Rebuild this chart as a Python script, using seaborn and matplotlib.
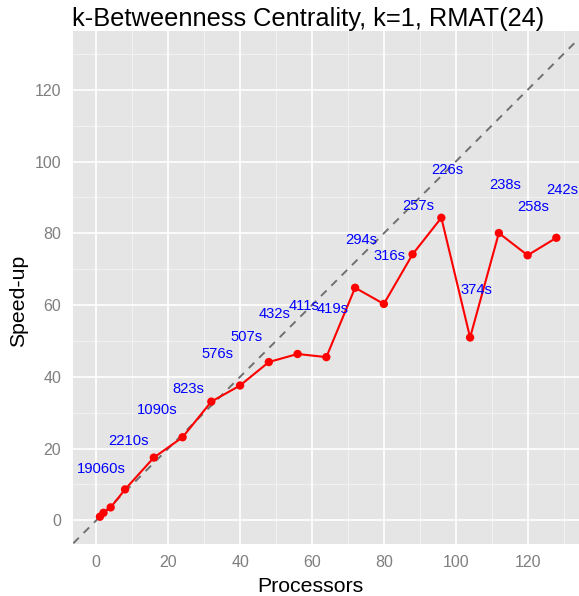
import matplotlib
matplotlib.use("Agg")
import matplotlib.pyplot as plt
import seaborn as sns
import pandas as pd
import numpy as np

processors = [1, 2, 4, 8, 16, 24, 32, 40, 48, 56, 64, 72, 80, 88, 96, 104, 112, 120, 128]
speedup = [1.0, 2.1, 3.6, 8.62, 17.49, 23.16, 33.09, 37.59, 44.12, 46.37, 45.49, 64.83,
           60.32, 74.16, 84.34, 50.96, 80.08, 73.88, 78.76]
time_labels = ["19060s", "", "", "2210s", "1090s", "823s", "576s", "507s", "432s", "411s",
               "419s", "294s", "316s", "257s", "226s", "374s", "238s", "258s", "242s"]
x_ticks = [0, 20, 40, 60, 80, 100, 120]
y_ticks = [0, 20, 40, 60, 80, 100, 120]
title = "k-Betweenness Centrality, k=1, RMAT(24)"

df = pd.DataFrame({"Processors": processors, "Speed-up": speedup, "label": time_labels})

sns.set_style("white")
plt.rcParams["font.family"] = ["Liberation Sans", "DejaVu Sans"]

DPI = 100
fig = plt.figure(figsize=(5.79, 5.96), dpi=DPI)
W, H = 579, 596
left, right, top, bottom = 73.3, 579, 31, 544
ax = fig.add_axes([left / W, 1 - bottom / H, (right - left) / W, (bottom - top) / H])
ax.set_facecolor("#E5E5E5")

xlim = (-6.4, 134.3)
ylim = (-6.6, 136.4)
ax.set_xlim(*xlim)
ax.set_ylim(*ylim)

# grid
for v in np.arange(-10, 140, 20):
    ax.axvline(v, color="#F2F2F2", lw=0.7, zorder=0.5)
    ax.axhline(v, color="#F2F2F2", lw=0.7, zorder=0.5)
for v in x_ticks:
    ax.axvline(v, color="white", lw=1.2, zorder=0.6)
for v in y_ticks:
    ax.axhline(v, color="white", lw=1.2, zorder=0.6)

# y = x reference
ax.axline((0, 0), slope=1, color="#707070", lw=1.4, ls=(0, (4, 3.5)), zorder=1)

sns.lineplot(data=df, x="Processors", y="Speed-up", color="#FF0000", lw=1.5, ax=ax, zorder=2)
sns.scatterplot(data=df, x="Processors", y="Speed-up", color="#FF0000", s=36, edgecolor="none",
                ax=ax, zorder=3)

texts = []
for xv, yv, lab in zip(processors, speedup, time_labels):
    if lab:
        t = ax.annotate(lab, (xv, yv), xytext=(14 * 0.72, 48 * 0.72), textcoords="offset points",
                        ha="center", va="center", color="#0000FF", fontsize=10.6, zorder=4,
                        annotation_clip=False)
        texts.append(t)

for s in ax.spines.values():
    s.set_visible(False)

ax.set_xticks(x_ticks)
ax.set_yticks(y_ticks)
ax.tick_params(axis="both", which="major", length=5.2, width=1, color="#7F7F7F",
               labelcolor="#7F7F7F", labelsize=11.5, direction="out")
ax.tick_params(axis="x", pad=2.5)
ax.tick_params(axis="y", pad=3.5)
ax.set_xlabel("")
ax.set_ylabel("")
fig.text(310 / W, 1 - 591.7 / H, "Processors", fontsize=15.3, ha="center", va="baseline",
         color="black")
fig.text(18.5 / W, 1 - 301 / H, "Speed-up", fontsize=15.3, ha="center", va="center",
         rotation=90, color="black")
fig.text(72.5 / W, 1 - 26 / H, title, fontsize=18.3, ha="left", va="baseline", color="black")

# shift labels to reproduce hjust ~0.75
fig.canvas.draw()
r = fig.canvas.get_renderer()
for t in texts:
    w = t.get_window_extent(r).width
    ox, oy = t.xyann
    t.xyann = (ox - 0.25 * w * 0.72, oy)

fig.savefig("out.png", dpi=DPI)
